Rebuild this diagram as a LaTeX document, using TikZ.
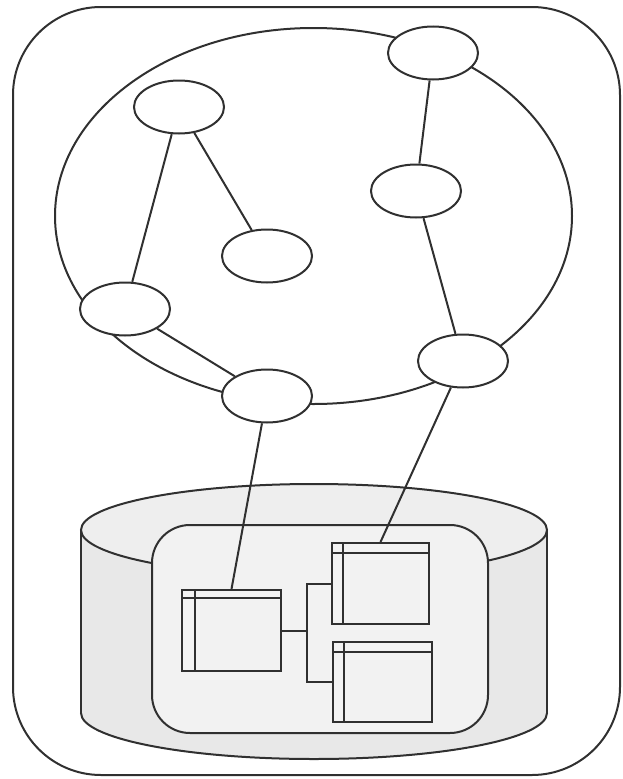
\documentclass[tikz,border=0pt]{standalone}
\usetikzlibrary{shapes.geometric}
\definecolor{ln}{HTML}{303030}
\definecolor{cylbody}{HTML}{E8E8E8}
\definecolor{cyltop}{HTML}{EEEEEE}
\definecolor{inner}{HTML}{F2F2F2}
\tikzset{
  lw/.style={line width=2pt, draw=ln},
  netnode/.style={ellipse, lw, fill=white, minimum width=90pt, minimum height=53pt, inner sep=0pt},
  ringshape/.style={ellipse, lw, minimum width=517pt, minimum height=376pt, inner sep=0pt},
  tablebox/.style={rectangle, lw, fill=inner, inner sep=0pt},
  link/.style={lw},
}
\begin{document}
\begin{tikzpicture}[x=1pt, y=-1pt]
\useasboundingbox (0,0) rectangle (623,779);
% outer frame
\draw[lw, rounded corners=88pt] (13,7) rectangle (620,775);
% cylinder
\fill[cylbody] (81,530) rectangle (547,713);
\fill[cylbody] (314,713) ellipse [x radius=233, y radius=46];
\draw[lw] (81,530) -- (81,713);
\draw[lw] (547,530) -- (547,713);
\begin{scope}
  \clip (60,713) rectangle (570,770);
  \draw[lw] (314,713) ellipse [x radius=233, y radius=46];
\end{scope}
\draw[lw, fill=cyltop] (314,530) ellipse [x radius=233, y radius=46];
% inner container
\node[lw, fill=inner, rounded corners=38pt, minimum width=336pt, minimum height=208pt, inner sep=0pt] (ir) at (320,629) {};
% tables
\node[tablebox, minimum width=99pt, minimum height=81pt] (lb) at (231.5,630.5) {};
\node[tablebox, minimum width=97pt, minimum height=81pt] (ub) at (380.5,583.5) {};
\node[tablebox, minimum width=99pt, minimum height=80pt] (db) at (382.5,682) {};
\draw[lw] ([xshift=14pt]lb.north west) -- ([xshift=14pt]lb.south west);
\draw[lw] ([yshift=-9pt]lb.north west) -- ([yshift=-9pt]lb.north east);
\draw[lw] ([xshift=12pt]ub.north west) -- ([xshift=12pt]ub.south west);
\draw[lw] ([yshift=-11pt]ub.north west) -- ([yshift=-11pt]ub.north east);
\draw[lw] ([xshift=12pt]db.north west) -- ([xshift=12pt]db.south west);
\draw[lw] ([yshift=-11pt]db.north west) -- ([yshift=-11pt]db.north east);
\coordinate (jn) at (307,630.5);
\draw[link] (lb.east) -- (jn);
\draw[link] (ub.west) -| (jn);
\draw[link] (jn) |- (db.west);
% ring
\node[ringshape] (ring) at (313.5,216) {};
% network nodes
\node[netnode] (tl) at (179,107) {};
\node[netnode] (tr) at (433,53) {};
\node[netnode] (md) at (267,256) {};
\node[netnode] (ru) at (416,191) {};
\node[netnode] (lf) at (125,309) {};
\node[netnode] (bm) at (267,396) {};
\node[netnode] (rt) at (463,361) {};
% links
\draw[link] (tl) -- (lf);
\draw[link] (tl) -- (md);
\draw[link] (tr) -- (ru);
\draw[link] (ru) -- (rt);
\draw[link] (lf) -- (bm);
\draw[link] (bm) -- (lb.north);
\draw[link] (rt) -- (ub.north);
\end{tikzpicture}
\end{document}
